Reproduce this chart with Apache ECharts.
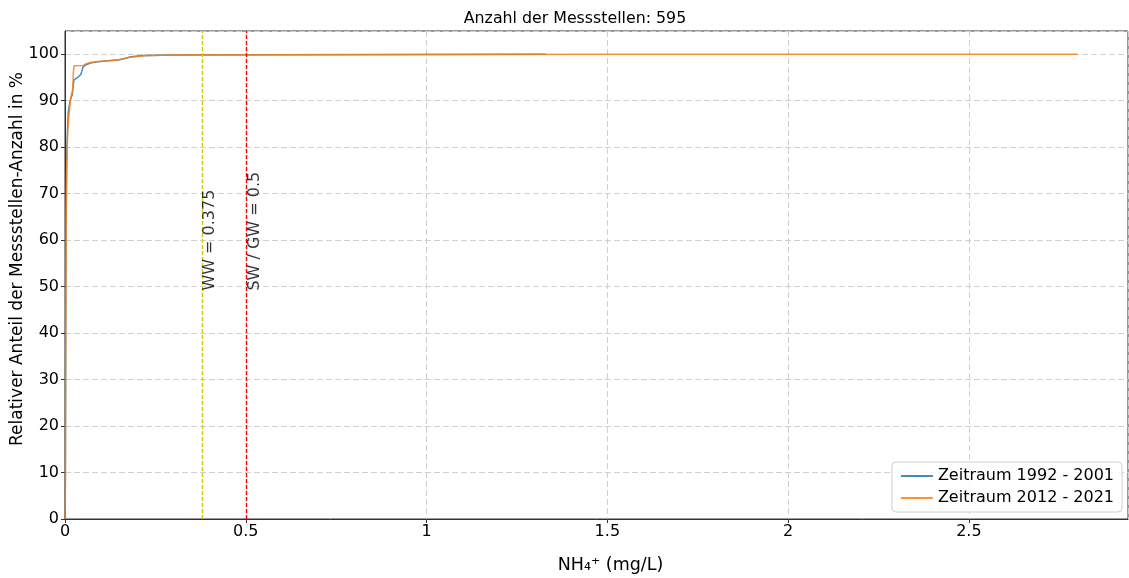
<!DOCTYPE html>
<html>
<head>
<meta charset="utf-8">
<script src="https://cdn.jsdelivr.net/npm/echarts@6/dist/echarts.min.js"></script>
<style>html,body{margin:0;padding:0;background:#fff}#c{width:1129px;height:578px}</style>
</head>
<body>
<div id="c"></div>
<script>
// Cumulative distribution: [NH4+ mg/L, percent of stations]
const series1Name = 'Zeitraum 1992 - 2001';
const series1 = [
  [0,0],[0.001,8],[0.002,45],[0.003,66],[0.004,73],[0.005,79],[0.007,84],[0.009,87.5],
  [0.012,89],[0.016,90.5],[0.02,91.3],[0.022,93],[0.025,94.5],[0.035,95],[0.043,95.6],
  [0.046,96.2],[0.05,97.3],[0.06,97.8],[0.07,98.1],[0.09,98.4],[0.12,98.6],[0.15,98.8],
  [0.165,99.1],[0.18,99.4],[0.2,99.6],[0.22,99.75],[0.3,99.85],[0.6,99.9],[1.0,99.95],[1.33,100]
];
const series2Name = 'Zeitraum 2012 - 2021';
const series2 = [
  [0,0],[0.001,5],[0.002,35],[0.003,62],[0.004,70],[0.005,76],[0.006,80],[0.008,84],
  [0.011,87],[0.015,90],[0.018,91.5],[0.021,92],[0.023,96],[0.025,97.5],[0.05,97.6],
  [0.06,98],[0.07,98.2],[0.1,98.5],[0.14,98.7],[0.16,99],[0.175,99.3],[0.2,99.5],
  [0.22,99.7],[0.3,99.85],[0.6,99.9],[1.0,99.95],[1.5,100],[2.8,100]
];
const thresholds = [
  { value: 0.375, label: 'WW = 0.375', color: '#cccc00' },
  { value: 0.5, label: 'SW / GW = 0.5', color: '#ff0000' }
];
const labelY = 50;
const titleText = 'Anzahl der Messstellen: 595';
const xName = 'NH\u2084\u207A (mg/L)';
const yName = 'Relativer Anteil der Messstellen-Anzahl in %';

const font = 'DejaVu Sans';
const chart = echarts.init(document.getElementById('c'), null, { renderer: 'canvas' });

const seriesList = [
  {
    name: series1Name, type: 'line', data: series1, showSymbol: false, symbol: 'none',
    lineStyle: { color: '#1f77b4', width: 1.5, opacity: 0.85 }, itemStyle: { color: '#1f77b4' }, z: 3
  },
  {
    name: series2Name, type: 'line', data: series2, showSymbol: false, symbol: 'none',
    lineStyle: { color: '#ff7f0e', width: 1.5, opacity: 0.85 }, itemStyle: { color: '#ff7f0e' }, z: 4,
    markLine: {
      silent: true, symbol: 'none', label: { show: false },
      data: thresholds.map(t => ({ xAxis: t.value, lineStyle: { color: t.color, type: [4, 2], width: 1.4, opacity: 1 } }))
    }
  },
  {
    type: 'scatter', silent: true, symbolSize: 0, z: 5,
    data: thresholds.map(t => ({ value: [t.value, labelY], name: t.label })),
    label: {
      show: true, position: [1, 4], rotate: 90, align: 'left', verticalAlign: 'top',
      formatter: p => p.name, color: '#000', fontFamily: font, fontSize: 16
    }
  }
];

chart.setOption({
  animation: false,
  backgroundColor: '#fff',
  title: {
    text: titleText, left: 570, top: 6, textAlign: 'center',
    textStyle: { fontFamily: font, fontSize: 15.8, fontWeight: 'normal', color: '#000' }
  },
  legend: {
    data: [series1Name, series2Name], right: 7, bottom: 66, orient: 'vertical',
    itemWidth: 32, itemHeight: 2, itemGap: 6,
    padding: [6, 8, 6, 8],
    borderColor: '#d0d0d0', borderWidth: 1, borderRadius: 4, backgroundColor: 'rgba(255,255,255,0.85)',
    textStyle: { fontFamily: font, fontSize: 16, color: '#000' }
  },
  grid: { left: 65, right: 1, top: 31, bottom: 59, outerBoundsMode: 'none', containLabel: false,
    show: true, borderColor: '#333', borderWidth: 1 },
  xAxis: {
    type: 'value', min: 0, max: 2.94, interval: 0.5,
    name: xName, nameLocation: 'middle', nameGap: 37, nameMoveOverlap: false,
    nameTextStyle: { fontFamily: font, fontSize: 17.5, color: '#000', padding: [0, 0, 0, 28] },
    axisLine: { show: true, lineStyle: { color: '#333' } },
    axisTick: { show: true, length: 4, lineStyle: { color: '#333' } },
    axisLabel: { fontFamily: font, fontSize: 16, color: '#000', margin: 5, showMaxLabel: false },
    splitLine: { show: true, lineStyle: { color: '#cfcfcf', type: [6, 3] } }
  },
  yAxis: {
    type: 'value', min: 0, max: 105, interval: 10,
    name: yName, nameLocation: 'middle', nameGap: 39, nameRotate: 90, nameMoveOverlap: false,
    nameTextStyle: { fontFamily: font, fontSize: 17, color: '#000', padding: [0, 0, 0, 32] },
    axisLine: { show: true, lineStyle: { color: '#333' } },
    axisTick: { show: true, length: 4, lineStyle: { color: '#333' } },
    axisLabel: { fontFamily: font, fontSize: 16, color: '#000', margin: 6, showMaxLabel: false },
    splitLine: { show: true, lineStyle: { color: '#cfcfcf', type: [6, 3] } }
  },
  series: seriesList
});
</script>
</body>
</html>
